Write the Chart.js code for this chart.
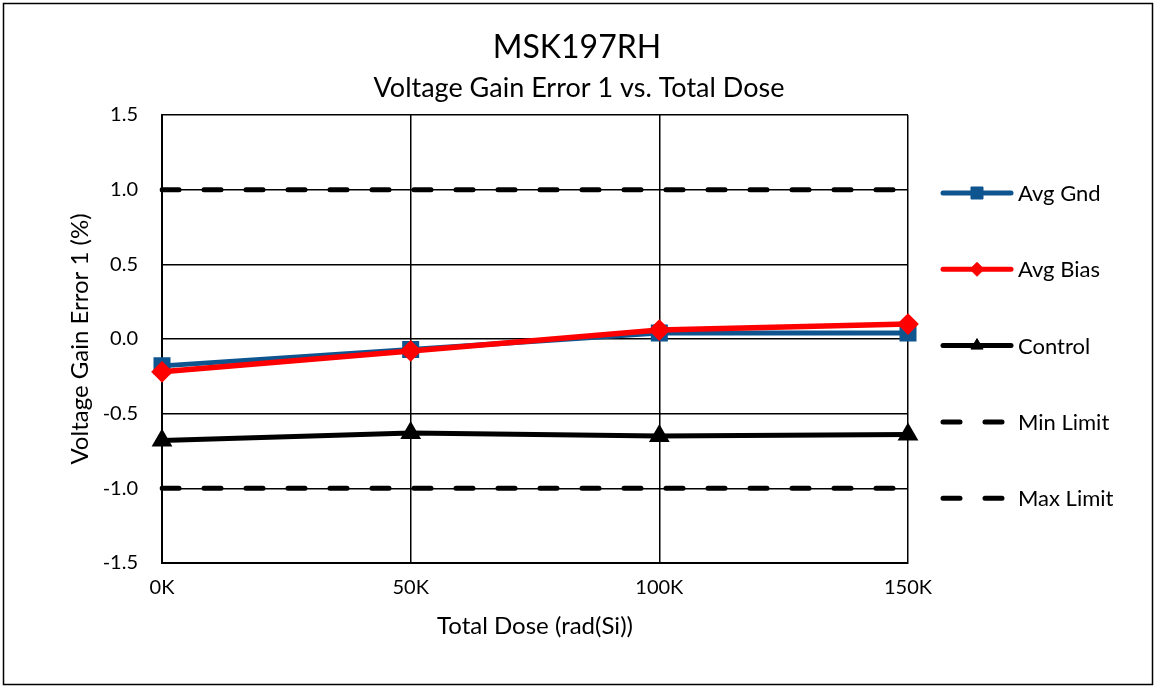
<!DOCTYPE html>
<html>
<head>
<meta charset="utf-8">
<script src="https://cdn.jsdelivr.net/npm/chart.js@4.4.0/dist/chart.umd.min.js"></script>
<style>
  body { margin: 0; background: #fff; }
  canvas { display: block; }
</style>
</head>
<body>
<canvas id="chart" width="1156" height="687"></canvas>
<script>
const doses = ["0K", "50K", "100K", "150K"];
const avgGnd = [-0.18, -0.07, 0.04, 0.04];
const avgBias = [-0.22, -0.08, 0.06, 0.10];
const control = [-0.68, -0.63, -0.65, -0.64];
const minLimit = [-1, -1, -1, -1];
const maxLimit = [1, 1, 1, 1];

const FONT = "Lato, 'Open Sans', sans-serif";
const BLUE = "#0E5590";
const RED = "#FF0000";
const dash = [17, 25];

// plot area box
const AREA = { left: 162, right: 908, top: 115, bottom: 563 };

const datasets = [
  { label: "Avg Gnd", data: avgGnd, borderColor: BLUE, backgroundColor: BLUE,
    borderWidth: 5, pointStyle: "rect", pointRadius: 8.5, order: 4 },
  { label: "Avg Bias", data: avgBias, borderColor: RED, backgroundColor: RED,
    borderWidth: 5.5, pointStyle: "rectRot", pointRadius: 7, order: 3 },
  { label: "Control", data: control, borderColor: "#000", backgroundColor: "#000",
    borderWidth: 5, pointStyle: "triangle", pointRadius: 7, order: 2 },
  { label: "Min Limit", data: minLimit, borderColor: "#000", borderWidth: 5,
    borderDash: dash, borderCapStyle: "round", pointRadius: 0, order: 1 },
  { label: "Max Limit", data: maxLimit, borderColor: "#000", borderWidth: 5,
    borderDash: dash, borderCapStyle: "round", pointRadius: 0, order: 1 },
];

const textPlugin = {
  id: "texts",
  beforeDraw(chart) {
    const ctx = chart.ctx;
    ctx.save();
    ctx.fillStyle = "#fff";
    ctx.fillRect(0, 0, chart.width, chart.height);
    ctx.strokeStyle = "#000";
    ctx.lineWidth = 1.5;
    ctx.strokeRect(3.5, 3.5, 1149, 681);
    ctx.restore();
  },
  afterDraw(chart) {
    const ctx = chart.ctx;
    const a = chart.chartArea;
    ctx.save();
    ctx.fillStyle = "#000";
    ctx.textAlign = "center";
    ctx.textBaseline = "middle";
    ctx.font = "32px " + FONT;
    ctx.fillText("MSK197RH", 577, 48);
    ctx.font = "27px " + FONT;
    ctx.fillText("Voltage Gain Error 1 vs. Total Dose", 579, 88);
    ctx.font = "24px " + FONT;
    ctx.fillText("Total Dose (rad(Si))", (a.left + a.right) / 2, 626);
    ctx.save();
    ctx.translate(80, (a.top + a.bottom) / 2);
    ctx.rotate(-Math.PI / 2);
    ctx.fillText("Voltage Gain Error 1 (%)", 0, 0);
    ctx.restore();

    // legend
    ctx.textAlign = "left";
    ctx.font = "22px " + FONT;
    datasets.forEach((ds, i) => {
      const y = 193 + i * 76.3;
      ctx.save();
      ctx.strokeStyle = ds.borderColor;
      ctx.lineWidth = 5;
      ctx.lineCap = "round";
      if (ds.borderDash) ctx.setLineDash(ds.borderDash);
      ctx.beginPath();
      ctx.moveTo(943, y);
      ctx.lineTo(1011, y);
      ctx.stroke();
      ctx.restore();
      if (ds.pointRadius > 0) {
        ctx.save();
        ctx.fillStyle = ds.backgroundColor;
        ctx.strokeStyle = ds.borderColor;
        ctx.lineWidth = 1;
        Chart.helpers.drawPoint(ctx, { pointStyle: ds.pointStyle, radius: ds.pointRadius, borderWidth: 1 }, 977, y);
        ctx.restore();
      }
      ctx.fillStyle = "#000";
      ctx.fillText(ds.label, 1018, y + 1);
    });
    ctx.restore();
  }
};

new Chart(document.getElementById("chart"), {
  type: "line",
  data: { labels: doses, datasets: datasets },
  plugins: [textPlugin],
  options: {
    responsive: false,
    animation: false,
    layout: { padding: { left: 0, right: 1156 - AREA.right, top: AREA.top, bottom: 0 } },
    elements: { line: { tension: 0 }, point: { borderWidth: 1 } },
    plugins: {
      legend: { display: false },
      title: { display: false },
      tooltip: { enabled: false },
    },
    scales: {
      x: {
        offset: false,
        grid: { color: "#000", lineWidth: 1.5, drawTicks: false, offset: false },
        border: { color: "#000", width: 2 },
        ticks: { color: "#000", font: { family: FONT, size: 20 }, padding: 13, maxRotation: 0 },
        afterFit(scale) { scale.height = 687 - AREA.bottom; },
      },
      y: {
        min: -1.5,
        max: 1.5,
        grid: { color: "#000", lineWidth: 1.5, drawTicks: false },
        border: { color: "#000", width: 2 },
        ticks: {
          stepSize: 0.5,
          color: "#000",
          font: { family: FONT, size: 20 },
          padding: 24,
          callback: (v) => Number(v).toFixed(1),
        },
        afterFit(scale) { scale.width = AREA.left; },
      },
    },
  },
});
</script>
</body>
</html>
